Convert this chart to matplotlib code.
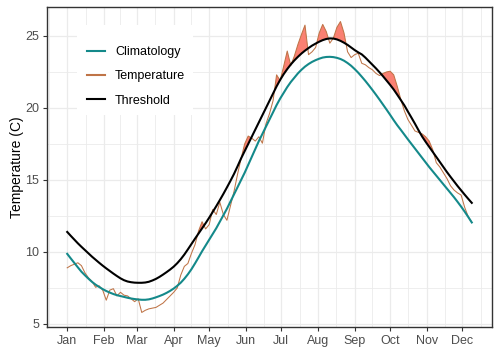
import numpy as np
import pandas as pd
import matplotlib
matplotlib.use("Agg")
import matplotlib.pyplot as plt
import matplotlib.dates as mdates
from matplotlib.patches import Rectangle
from matplotlib.lines import Line2D

# ---- data (every third day, 2019-01-01 .. 2019-12-09) ----
dates = pd.date_range("2019-01-01", "2019-12-09", freq="3D")

clim = [9.87, 9.55, 9.24, 8.93, 8.63, 8.38, 8.14, 7.92, 7.73, 7.57,
        7.42, 7.29, 7.18, 7.08, 7.00, 6.94, 6.88, 6.82, 6.77, 6.73,
        6.70, 6.68, 6.68, 6.71, 6.77, 6.85, 6.94, 7.04, 7.16, 7.30,
        7.46, 7.65, 7.87, 8.14, 8.45, 8.80, 9.20, 9.62, 10.05, 10.45,
        10.85, 11.25, 11.65, 12.10, 12.55, 13.00, 13.50, 14.00, 14.50, 15.00,
        15.50, 16.05, 16.60, 17.15, 17.70, 18.20, 18.70, 19.20, 19.70, 20.20,
        20.65, 21.05, 21.45, 21.80, 22.10, 22.40, 22.65, 22.87, 23.05, 23.20,
        23.32, 23.42, 23.50, 23.54, 23.55, 23.53, 23.48, 23.40, 23.28, 23.12,
        22.93, 22.70, 22.45, 22.17, 21.88, 21.57, 21.25, 20.92, 20.58, 20.23,
        19.88, 19.52, 19.15, 18.80, 18.48, 18.15, 17.82, 17.50, 17.18, 16.86,
        16.54, 16.22, 15.90, 15.60, 15.30, 15.00, 14.70, 14.40, 14.10, 13.80,
        13.48, 13.15, 12.80, 12.43, 12.05]

thresh = [11.39, 11.12, 10.86, 10.60, 10.36, 10.13, 9.90, 9.67, 9.46, 9.25,
          9.05, 8.86, 8.68, 8.50, 8.33, 8.17, 8.04, 7.95, 7.90, 7.87,
          7.86, 7.86, 7.88, 7.93, 8.02, 8.13, 8.27, 8.43, 8.60, 8.78,
          8.98, 9.22, 9.50, 9.82, 10.18, 10.55, 10.92, 11.28, 11.64, 12.00,
          12.38, 12.78, 13.18, 13.60, 14.03, 14.48, 14.94, 15.42, 15.95, 16.50,
          17.00, 17.50, 18.00, 18.50, 19.00, 19.50, 20.00, 20.50, 21.00, 21.50,
          21.95, 22.35, 22.70, 23.02, 23.30, 23.55, 23.78, 23.98, 24.16, 24.33,
          24.47, 24.60, 24.71, 24.79, 24.83, 24.82, 24.76, 24.66, 24.53, 24.38,
          24.20, 24.02, 23.86, 23.72, 23.50, 23.25, 23.00, 22.75, 22.48, 22.20,
          21.90, 21.60, 21.28, 20.92, 20.55, 20.18, 19.75, 19.33, 18.90, 18.45,
          18.02, 17.65, 17.30, 16.95, 16.60, 16.25, 15.90, 15.55, 15.22, 14.90,
          14.58, 14.28, 13.98, 13.69, 13.41]

temp = [8.90, 9.05, 9.15, 9.25, 9.05, 8.55, 8.20, 7.95, 7.55, 7.65,
        7.35, 6.65, 7.35, 7.45, 6.95, 7.20, 7.00, 6.95, 6.75, 6.55,
        6.75, 5.80, 5.95, 6.05, 6.10, 6.15, 6.30, 6.45, 6.70, 6.95,
        7.20, 7.50, 8.40, 9.00, 9.20, 9.90, 10.50, 11.45, 12.10, 11.60,
        11.90, 12.95, 12.60, 13.45, 12.60, 12.20, 13.20, 14.20, 15.40, 16.50,
        17.50, 18.05, 17.90, 17.70, 18.00, 17.55, 18.90, 19.60, 20.50, 22.30,
        21.90, 22.90, 23.95, 22.95, 23.60, 24.40, 25.10, 25.75, 23.70, 23.90,
        24.20, 25.20, 25.80, 25.30, 24.50, 24.85, 25.60, 26.00, 25.20, 23.90,
        23.50, 23.70, 23.80, 23.10, 23.00, 22.80, 22.65, 22.40, 22.25, 22.40,
        22.50, 22.55, 22.30, 21.50, 20.60, 19.80, 19.20, 18.80, 18.40, 18.30,
        18.20, 18.00, 17.70, 17.10, 16.20, 15.90, 15.50, 15.10, 14.60, 14.30,
        14.10, 13.95, 13.10, 12.45, 12.05]

series_labels = ["Climatology", "Temperature", "Threshold"]
y_ticks = [5, 10, 15, 20, 25]
y_minor = [7.5, 12.5, 17.5, 22.5]

# ---- style ----
plt.rcParams['font.family'] = ['Liberation Sans', 'DejaVu Sans']
c_clim = "#14898A"
c_temp = "#BF7447"
c_thr = "#000000"
c_fill = "#FA8072"
grid_c = "#EBEBEB"

fig = plt.figure(figsize=(5, 3.6), dpi=100)
ax = fig.add_axes([47 / 500, 1 - 327 / 360, 445 / 500, 320 / 360])

x = mdates.date2num(dates.to_pydatetime())
t = np.array(temp)
th = np.array(thresh)

ax.fill_between(x, t, th, where=t > th, interpolate=True,
                color=c_fill, linewidth=0, zorder=2)
ax.plot(x, t, color=c_temp, lw=0.75, zorder=3)
ax.plot(x, th, color=c_thr, lw=1.5, zorder=4)
ax.plot(x, clim, color=c_clim, lw=1.5, zorder=5)

# limits like ggplot (5% expansion)
xr = x[-1] - x[0]
ax.set_xlim(x[0] - 0.05 * xr, x[-1] + 0.05 * xr)
allv = np.concatenate([t, th, np.array(clim)])
yr = allv.max() - allv.min()
ax.set_ylim(allv.min() - 0.05 * yr, allv.max() + 0.05 * yr)

# ticks
ax.xaxis.set_major_locator(mdates.MonthLocator(bymonthday=1))
ax.xaxis.set_major_formatter(mdates.DateFormatter('%b'))
month_starts = pd.date_range("2018-12-01", "2020-01-01", freq="MS")
ms = mdates.date2num(month_starts.to_pydatetime())
mids = (ms[:-1] + ms[1:]) / 2
ax.set_xticks(mids, minor=True)
ax.set_yticks(y_ticks)
ax.set_yticks(y_minor, minor=True)

ax.grid(which='major', color=grid_c, lw=0.9)
ax.grid(which='minor', color=grid_c, lw=0.6)
ax.set_axisbelow(True)
ax.tick_params(which='minor', length=0)
ax.tick_params(which='major', length=3, width=0.8, color='#333333',
               labelsize=9, labelcolor='#4D4D4D', pad=2.5)
for s in ax.spines.values():
    s.set_color('#333333')
    s.set_linewidth(1.0)

ax.set_ylabel('Temperature (C)', fontsize=10, color='black')
ax.yaxis.set_label_coords(-0.052, 0.5)

# legend box (white, inside panel)
ax.add_patch(Rectangle((77 / 500, 1 - 115 / 360), 116 / 500, 90 / 360,
                       transform=fig.transFigure, facecolor='white',
                       edgecolor='none', zorder=6, clip_on=False))
handles = [Line2D([], [], color=c_clim, lw=1.5),
           Line2D([], [], color=c_temp, lw=1.5),
           Line2D([], [], color=c_thr, lw=1.5)]
leg = ax.legend(handles, series_labels, loc='upper left',
                bbox_to_anchor=(87 / 500, 1 - 46.5 / 360),
                bbox_transform=fig.transFigure, frameon=False,
                borderpad=0, borderaxespad=0, fontsize=9,
                handlelength=1.45, handletextpad=0.8, labelspacing=0.96)
leg.set_zorder(7)

fig.savefig("out.png", dpi=100)
